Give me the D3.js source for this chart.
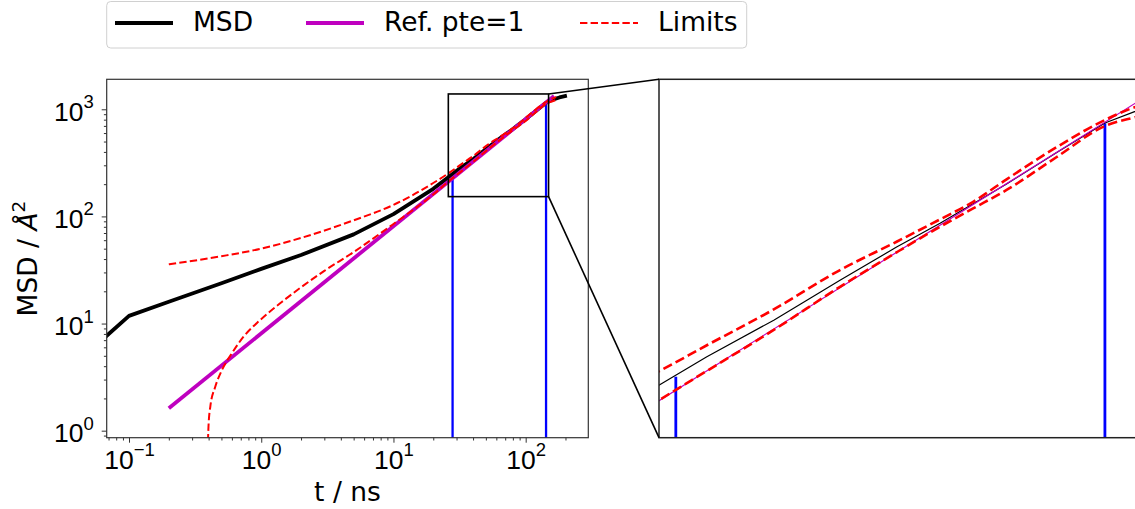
<!DOCTYPE html>
<html><head><meta charset="utf-8">
<script src="https://cdn.jsdelivr.net/npm/d3@7"></script>
<style>body{margin:0;background:#fff}svg{display:block;font-family:"DejaVu Sans",sans-serif}</style>
</head><body><svg id="c" width="1135" height="509"></svg>
<script>
// ---------- data ----------
const msdT=[0.05,0.1,0.2,0.5,1,2,5,10,20,26.3,31.5,40.6,52.2,64.7,76.3,86.5,98.2,118.6,142.6,159.6,180,205];
const msdV=[5.5,11.8,16,23.8,32.4,43.6,68,105,181,234,278,347,442,541,625,704,793,959,1149,1231,1290,1340];
const upT=[0.2,0.5,1,2,5,10,20,26.3,31.5,40.6,52.2,64.7,76.3,86.5,98.2,118.6,142.6,159.6,170];
const upV=[35.7,42.5,50,63,92,128,205,254.7,298,370.5,470.4,558.7,640,712,816,991,1170,1264,1300];
const loT=[0.39,0.399,0.412,0.449,0.505,0.6,0.735,0.983,1.43,1.97,3,5,10,20,26.3,31.5,40.6,52.2,64.7,76.3,86.5,98.2,118.6,142.6,159.6,170];
const loV=[0.4,1.09,1.68,2.57,3.69,5.28,7.54,10.8,15.9,21.5,31,46.5,85,160,213.6,255,327,425,524,612,684,765,933,1128,1189,1220];
const refT=[0.2,164];
const refV=[1.62,1328];
const fitT=[28.0,142.6];
const fitV=[246,1147];
const boxT=[26.0,149];
const boxV=[153,1390];
const xTicks=[0.1,1,10,100];
const xTickExp=["\u22121","0","1","2"];
const yTicks=[1,10,100,1000];
const yTickExp=["0","1","2","3"];
const legendLabels=["MSD","Ref. pte=1","Limits"];
const xDomain=[0.0678,297.6];
const yDomain=[0.860,1905];
const xDomainZoom=[26.27,162.9];
const yDomainZoom=[170,1498];

// ---------- layout ----------
const svg=d3.select("#c");
const L={x0:106.7,x1:588.3,y0:79.3,y1:437.7};
const R={x0:659,x1:1140,y0:79.3,y1:437.7};
const xL=d3.scaleLog().domain(xDomain).range([L.x0,L.x1]);
const yL=d3.scaleLog().domain(yDomain).range([L.y1,L.y0]);
const xR=d3.scaleLog().domain(xDomainZoom).range([R.x0,R.x1]);
const yR=d3.scaleLog().domain(yDomainZoom).range([R.y1,R.y0]);
const FS="26.5px", SFS="18.5px", SUP=-12.5;

const defs=svg.append("defs");
defs.append("clipPath").attr("id","clipL").append("rect").attr("x",L.x0).attr("y",L.y0).attr("width",L.x1-L.x0).attr("height",L.y1-L.y0);
defs.append("clipPath").attr("id","clipR").append("rect").attr("x",R.x0).attr("y",R.y0).attr("width",R.x1-R.x0).attr("height",R.y1-R.y0);

const zip=(a,b)=>a.map((t,i)=>[t,b[i]]);
const RED="#ff0000",MAG="#bf00bf",BLUE="#0000ff";

function drawPanel(x,y,clip,st){
  const g=svg.append("g").attr("clip-path",`url(#${clip})`);
  const lin=d3.line().x(d=>x(d[0])).y(d=>y(d[1]));
  const smooth=d3.line().x(d=>x(d[0])).y(d=>y(d[1])).curve(d3.curveMonotoneX);
  fitT.forEach((t,i)=>{
    g.append("line").attr("x1",x(t)).attr("x2",x(t)).attr("y1",y.range()[0]+2).attr("y2",y(fitV[i]))
     .attr("stroke",BLUE).attr("stroke-width",st.blue);
  });
  g.append("path").datum(zip(msdT,msdV)).attr("d",lin).attr("fill","none").attr("stroke","#000").attr("stroke-width",st.black).attr("stroke-linejoin","round");
  g.append("path").datum(zip(refT,refV)).attr("d",lin).attr("fill","none").attr("stroke",MAG).attr("stroke-width",st.ref);
  [zip(upT,upV),zip(loT,loV)].forEach(d=>{
    g.append("path").datum(d).attr("d",smooth).attr("fill","none").attr("stroke",RED)
     .attr("stroke-width",st.red).attr("stroke-dasharray",st.dash);
  });
  return g;
}
drawPanel(xL,yL,"clipL",{blue:2.3,black:3.8,ref:3.8,red:2,dash:"7.4,3.2"});
drawPanel(xR,yR,"clipR",{blue:2.8,black:1.2,ref:1.2,red:2.6,dash:"9.6,4.2"});

// frames
svg.append("rect").attr("x",L.x0).attr("y",L.y0).attr("width",L.x1-L.x0).attr("height",L.y1-L.y0)
  .attr("fill","none").attr("stroke","#333").attr("stroke-width",1.2);
svg.append("rect").attr("x",R.x0).attr("y",R.y0).attr("width",R.x1-R.x0).attr("height",R.y1-R.y0)
  .attr("fill","none").attr("stroke","#222").attr("stroke-width",1.5);

// inset box & connectors
const bx0=xL(boxT[0]),bx1=xL(boxT[1]),by0=yL(boxV[1]),by1=yL(boxV[0]);
svg.append("rect").attr("x",bx0).attr("y",by0).attr("width",bx1-bx0).attr("height",by1-by0)
  .attr("fill","none").attr("stroke","#000").attr("stroke-width",1.6);
svg.append("line").attr("x1",bx1).attr("y1",by0).attr("x2",R.x0).attr("y2",R.y0).attr("stroke","#000").attr("stroke-width",1.6);
svg.append("line").attr("x1",bx1).attr("y1",by1).attr("x2",R.x0).attr("y2",R.y1).attr("stroke","#000").attr("stroke-width",1.6);

// axes
function minors(dom){const out=[];const a=Math.floor(Math.log10(dom[0])),b=Math.ceil(Math.log10(dom[1]));
  for(let e=a;e<=b;e++)for(let m=2;m<=9;m++){const v=m*Math.pow(10,e);if(v>=dom[0]&&v<=dom[1])out.push(v);}return out;}
const xa=svg.append("g").attr("transform",`translate(0,${L.y1})`);
xa.call(d3.axisBottom(xL).tickValues(minors(xDomain)).tickSize(2.8).tickFormat(""));
const xm=svg.append("g").attr("transform",`translate(0,${L.y1})`);
xm.call(d3.axisBottom(xL).tickValues(xTicks).tickSize(5).tickFormat(""));
const ya=svg.append("g").attr("transform",`translate(${L.x0},0)`);
ya.call(d3.axisLeft(yL).tickValues(minors(yDomain)).tickSize(2.8).tickFormat(""));
const ym=svg.append("g").attr("transform",`translate(${L.x0},0)`);
ym.call(d3.axisLeft(yL).tickValues(yTicks).tickSize(5).tickFormat(""));
svg.selectAll(".domain").remove();
svg.selectAll(".tick line").attr("stroke","#333").attr("stroke-width",1);

xm.selectAll(".tick").each(function(d,i){
  const t=d3.select(this).append("text").attr("y",31).attr("text-anchor","middle").attr("fill","#000")
    .style("font-size",FS);
  t.append("tspan").text("10");
  t.append("tspan").attr("dy",SUP).style("font-size",SFS).text(xTickExp[i]);
});
ym.selectAll(".tick").each(function(d,i){
  const t=d3.select(this).append("text").attr("x",-13).attr("y",11).attr("text-anchor","end").attr("fill","#000")
    .style("font-size",FS);
  t.append("tspan").text("10");
  t.append("tspan").attr("dy",SUP).style("font-size",SFS).text(yTickExp[i]);
});

// axis labels
svg.append("text").attr("x",(L.x0+L.x1)/2).attr("y",501).attr("text-anchor","middle").style("font-size",FS).text("t / ns");
const yl=svg.append("text").attr("transform",`translate(37,${(L.y0+L.y1)/2}) rotate(-90)`).attr("text-anchor","middle").style("font-size",FS);
yl.append("tspan").text("MSD / ");
yl.append("tspan").style("font-style","italic").text("Å");
yl.append("tspan").attr("dy",SUP).style("font-size",SFS).text("2");

// legend
const lg=svg.append("g");
lg.append("rect").attr("x",106.7).attr("y",1.5).attr("width",640).attr("height",46.5).attr("rx",4)
  .attr("fill","#fff").attr("stroke","#d0d0d0").attr("stroke-width",1);
const items=[{x:115,c:"#000",w:3.8,d:null},{x:306,c:MAG,w:3.8,d:null},{x:580,c:RED,w:2,d:"7.4,3.2"}];
items.forEach((it,i)=>{
  lg.append("line").attr("x1",it.x).attr("x2",it.x+58).attr("y1",23).attr("y2",23)
    .attr("stroke",it.c).attr("stroke-width",it.w).attr("stroke-dasharray",it.d);
  lg.append("text").attr("x",it.x+78).attr("y",31).style("font-size",FS).text(legendLabels[i]);
});
</script></body></html>
